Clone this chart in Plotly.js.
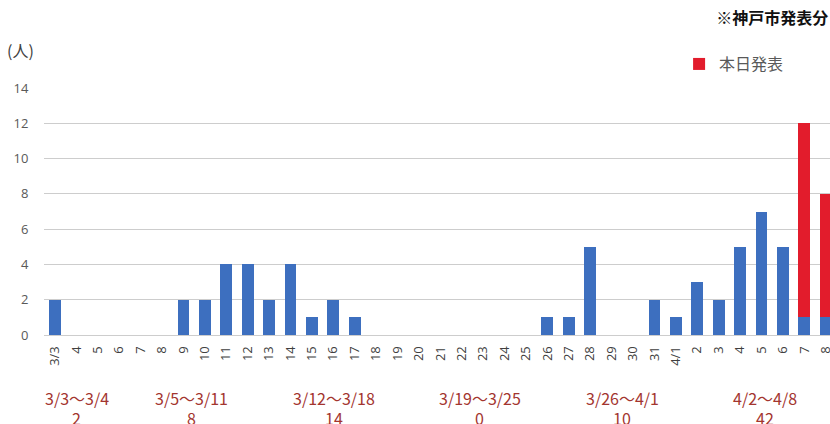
<!DOCTYPE html>
<html>
<head>
<meta charset="utf-8">
<script src="https://cdn.plot.ly/plotly-3.0.1.min.js"></script>
<style>html,body{margin:0;padding:0;background:#fff;}#chart{width:830px;height:424px;}</style>
</head>
<body>
<div id="chart"></div>
<script>
// ---- data ----
const dates = ["3/3","3/4","3/5","3/6","3/7","3/8","3/9","3/10","3/11","3/12","3/13","3/14","3/15","3/16","3/17","3/18","3/19","3/20","3/21","3/22","3/23","3/24","3/25","3/26","3/27","3/28","3/29","3/30","3/31","4/1","4/2","4/3","4/4","4/5","4/6","4/7","4/8"];
const tickLabels = ["3/3","4","5","6","7","8","9","10","11","12","13","14","15","16","17","18","19","20","21","22","23","24","25","26","27","28","29","30","31","4/1","2","3","4","5","6","7","8"];
const previous = [2,0,0,0,0,0,2,2,4,4,2,4,1,2,1,0,0,0,0,0,0,0,0,1,1,5,0,0,2,1,3,2,5,7,5,1,1];
const today    = [0,0,0,0,0,0,0,0,0,0,0,0,0,0,0,0,0,0,0,0,0,0,0,0,0,0,0,0,0,0,0,0,0,0,0,11,7];
const weekLabels = ["3/3〜3/4","3/5〜3/11","3/12〜3/18","3/19〜3/25","3/26〜4/1","4/2〜4/8"];
const weekTotals = [2,8,14,0,10,42];
const todayName = "本日発表";
const yTicks = [0,2,4,6,8,10,12,14];

// ---- layout helpers ----
const weekLabelPos = [1.03,6.4,13.05,19.85,26.5,33.15];
const labelColor = "#a3352f";
const jp = "'Noto Sans CJK JP', 'Noto Sans', sans-serif";

const traces = [
  {type:"bar", x:dates, y:previous, marker:{color:"#3d6fbf"}, showlegend:false, hoverinfo:"skip"},
  {type:"bar", x:dates, y:today, name:todayName, marker:{color:"#e21c2c"}, hoverinfo:"skip"}
];

const annotations = [];
weekLabels.forEach((w,i)=>{
  annotations.push({
    xref:"x", yref:"paper", x:weekLabelPos[i], y:-0.255, yanchor:"middle", xanchor:"center",
    text:w, showarrow:false, font:{family:jp, size:16, color:labelColor}
  });
  annotations.push({
    xref:"x", yref:"paper", x:weekLabelPos[i], y:-0.336, yanchor:"middle", xanchor:"center",
    text:String(weekTotals[i]), showarrow:false, font:{family:jp, size:16, color:labelColor}
  });
});
annotations.push({
  xref:"paper", yref:"paper", x:-0.05, y:1.155, xanchor:"left", yanchor:"middle",
  text:"(人)", showarrow:false, font:{family:jp, size:16, color:"#404040"}
});

const layout = {
  width:830, height:424,
  margin:{l:44, r:0, t:88, b:89},
  paper_bgcolor:"#fff", plot_bgcolor:"#fff",
  font:{family:jp, color:"#595959"},
  barmode:"stack", bargap:0.45,
  title:{text:"<b>※神戸市発表分</b>", x:0.998, xanchor:"right", y:0.957, yanchor:"middle",
         font:{family:jp, size:16, color:"#111"}},
  xaxis:{type:"category", range:[-0.51,36.2], autorange:false,
         tickmode:"array", tickvals:dates, ticktext:tickLabels, tickangle:-90,
         ticks:"outside", ticklen:5, tickcolor:"rgba(0,0,0,0)",
         tickfont:{family:"'Open Sans', 'Noto Sans', sans-serif", size:13, color:"#404040"},
         showgrid:false, zeroline:false, showline:false, fixedrange:true},
  yaxis:{range:[0,14], autorange:false, tickvals:yTicks,
         ticks:"outside", ticklen:12, tickcolor:"rgba(0,0,0,0)",
         tickfont:{family:"'Open Sans', 'Noto Sans', sans-serif", size:13, color:"#595959"},
         gridcolor:"#cdcdcd", gridwidth:1, zeroline:true, zerolinecolor:"#cdcdcd",
         showline:false, fixedrange:true},
  legend:{orientation:"h", x:0.808, xanchor:"left", y:1.097, yanchor:"middle",
          font:{family:jp, size:16, color:"#595959"}, itemwidth:30, bgcolor:"rgba(0,0,0,0)"},
  annotations:annotations
};

Plotly.newPlot("chart", traces, layout, {staticPlot:true, displayModeBar:false});
</script>
</body>
</html>
